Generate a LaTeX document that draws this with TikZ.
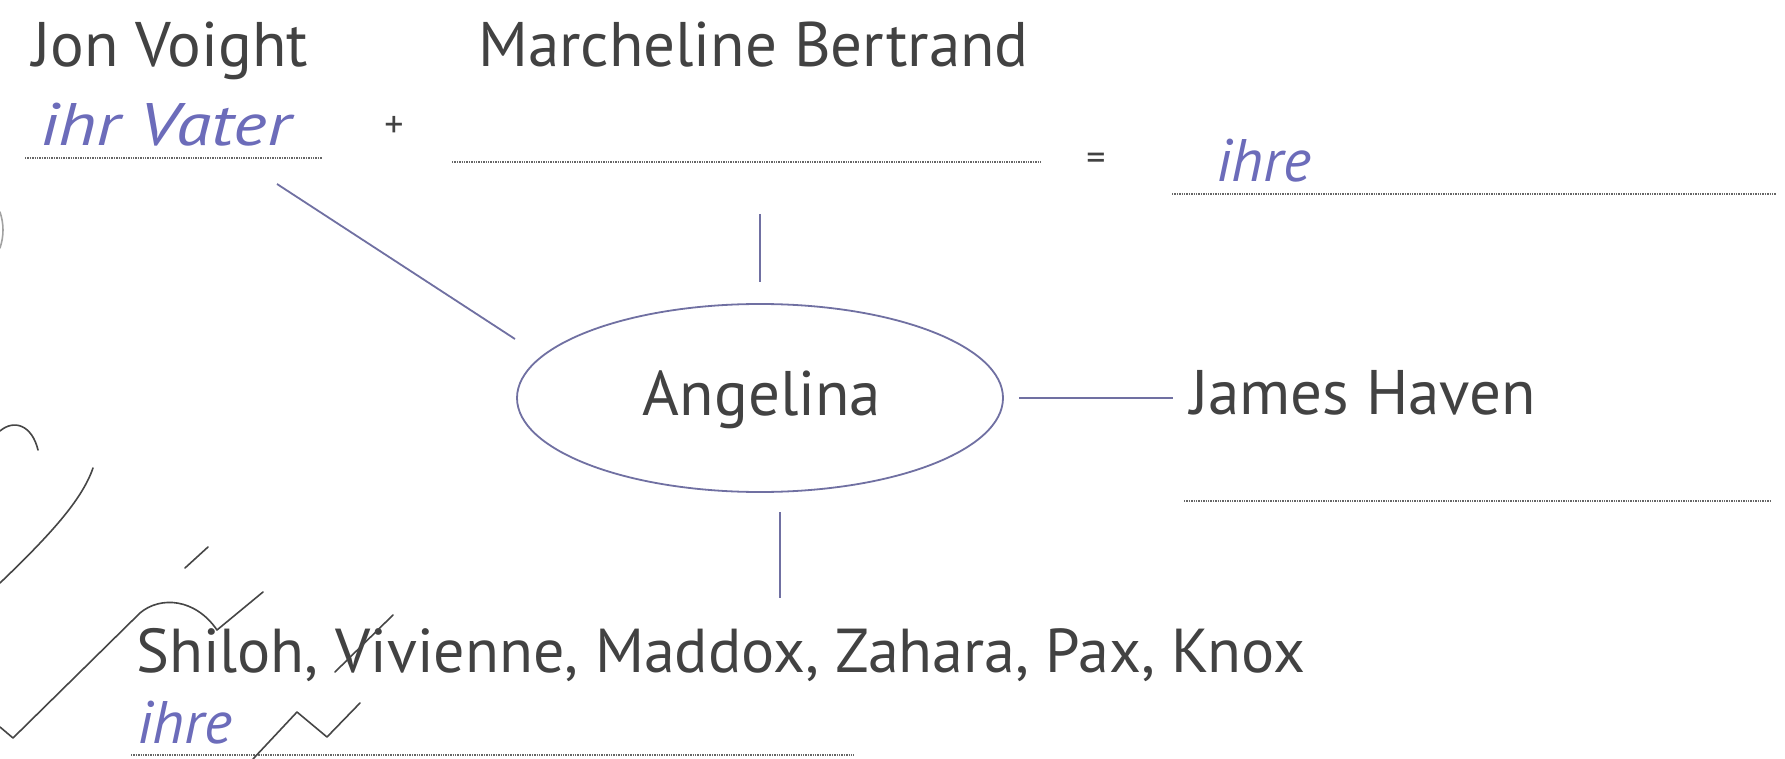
\documentclass[tikz,border=0pt]{standalone}
\usepackage{fontspec}
\usepackage{graphicx}
\setmainfont{PT Sans}
\usetikzlibrary{shapes.geometric}
\definecolor{txt}{RGB}{66,66,66}
\definecolor{hand}{RGB}{108,108,186}
\definecolor{conn}{RGB}{112,112,162}
\definecolor{pencil}{RGB}{70,70,70}
\tikzset{
  lbl/.style={anchor=base west, inner sep=0pt, text=txt, font=\fontsize{63}{66}\selectfont},
  handw/.style={anchor=base west, inner sep=0pt, text=hand, font=\fontsize{60}{64}\selectfont\itshape},
  sym/.style={inner sep=0pt, text=txt, font=\fontsize{38}{40}\selectfont},
  blank/.style={draw=black!60, line width=1.4pt, dash pattern=on 1.3pt off 1.1pt},
  conline/.style={draw=conn, line width=1.8pt},
  scribble/.style={draw=pencil, line width=1.6pt, line cap=round, line join=round},
}
\begin{document}
\begin{tikzpicture}[x=1pt,y=-1pt]
\useasboundingbox[fill=white] (0,0) rectangle (1785,759);
% top row
\node[lbl] (jon) at (32,67) {Jon Voight};
\node[handw] (vater) at (40,146) {\scalebox{1.2}[1]{ihr Vater}};
\coordinate (l1a) at (25,158); \coordinate (l1b) at (322,158);
\draw[blank] (l1a) -- (l1b);
\node[sym] (plus) at (394,127) {+};
\node[lbl] (marc) at (478,67) {Marcheline Bertrand};
\coordinate (l2a) at (452,162); \coordinate (l2b) at (1042,162);
\draw[blank] (l2a) -- (l2b);
\node[sym] (eq) at (1096,162) {=};
\node[handw] (ihre1) at (1216,182) {ihre};
\coordinate (l3a) at (1172,194); \coordinate (l3b) at (1776,194);
\draw[blank] (l3a) -- (l3b);
% centre
\node[ellipse, draw=conn, line width=1.8pt, minimum width=486pt, minimum height=188pt, inner sep=0pt] (ang) at (760,398) {};
\node[inner sep=0pt, text=txt, font=\fontsize{63}{66}\selectfont] (angt) at (762,400) {Angelina};
\coordinate (vt1) at (760,214); \coordinate (vt2) at (760,282);
\draw[conline] (vt1) -- (vt2);
\coordinate (d1) at (277,184); \coordinate (d2) at (515,339);
\draw[conline] (d1) -- (d2);
\coordinate (h1) at (1019,398); \coordinate (h2) at (1173,398);
\draw[conline] (h1) -- (h2);
\node[lbl] (james) at (1190,414) {James Haven};
\coordinate (l4a) at (1184,501); \coordinate (l4b) at (1770,501);
\draw[blank] (l4a) -- (l4b);
\coordinate (vb1) at (780,512); \coordinate (vb2) at (780,598);
\draw[conline] (vb1) -- (vb2);
% bottom
\node[lbl, font=\fontsize{62}{66}\selectfont] (kids) at (136,672) {Shiloh, Vivienne, Maddox, Zahara, Pax, Knox};
\node[handw] (ihre2) at (137,743) {ihre};
\coordinate (l5a) at (131,755); \coordinate (l5b) at (854,755);
\draw[blank] (l5a) -- (l5b);
% pencil scribbles
\draw[scribble, draw=pencil!50] (0,212) .. controls (4,224) and (4,236) .. (0,248);
\draw[scribble] (0,431) .. controls (14,419) and (32,425) .. (38,450);
\draw[scribble] (93,468) .. controls (82,500) and (50,535) .. (0,583);
\draw[scribble] (185,568) -- (208,547);
\draw[scribble] (0,727) -- (13,738) -- (140,613) .. controls (160,596) and (195,598) .. (217,630) -- (263,592);
\draw[scribble] (335,672) -- (393,615);
\draw[scribble] (253,759) -- (297,712) -- (327,737) -- (360,703);
\end{tikzpicture}
\end{document}
